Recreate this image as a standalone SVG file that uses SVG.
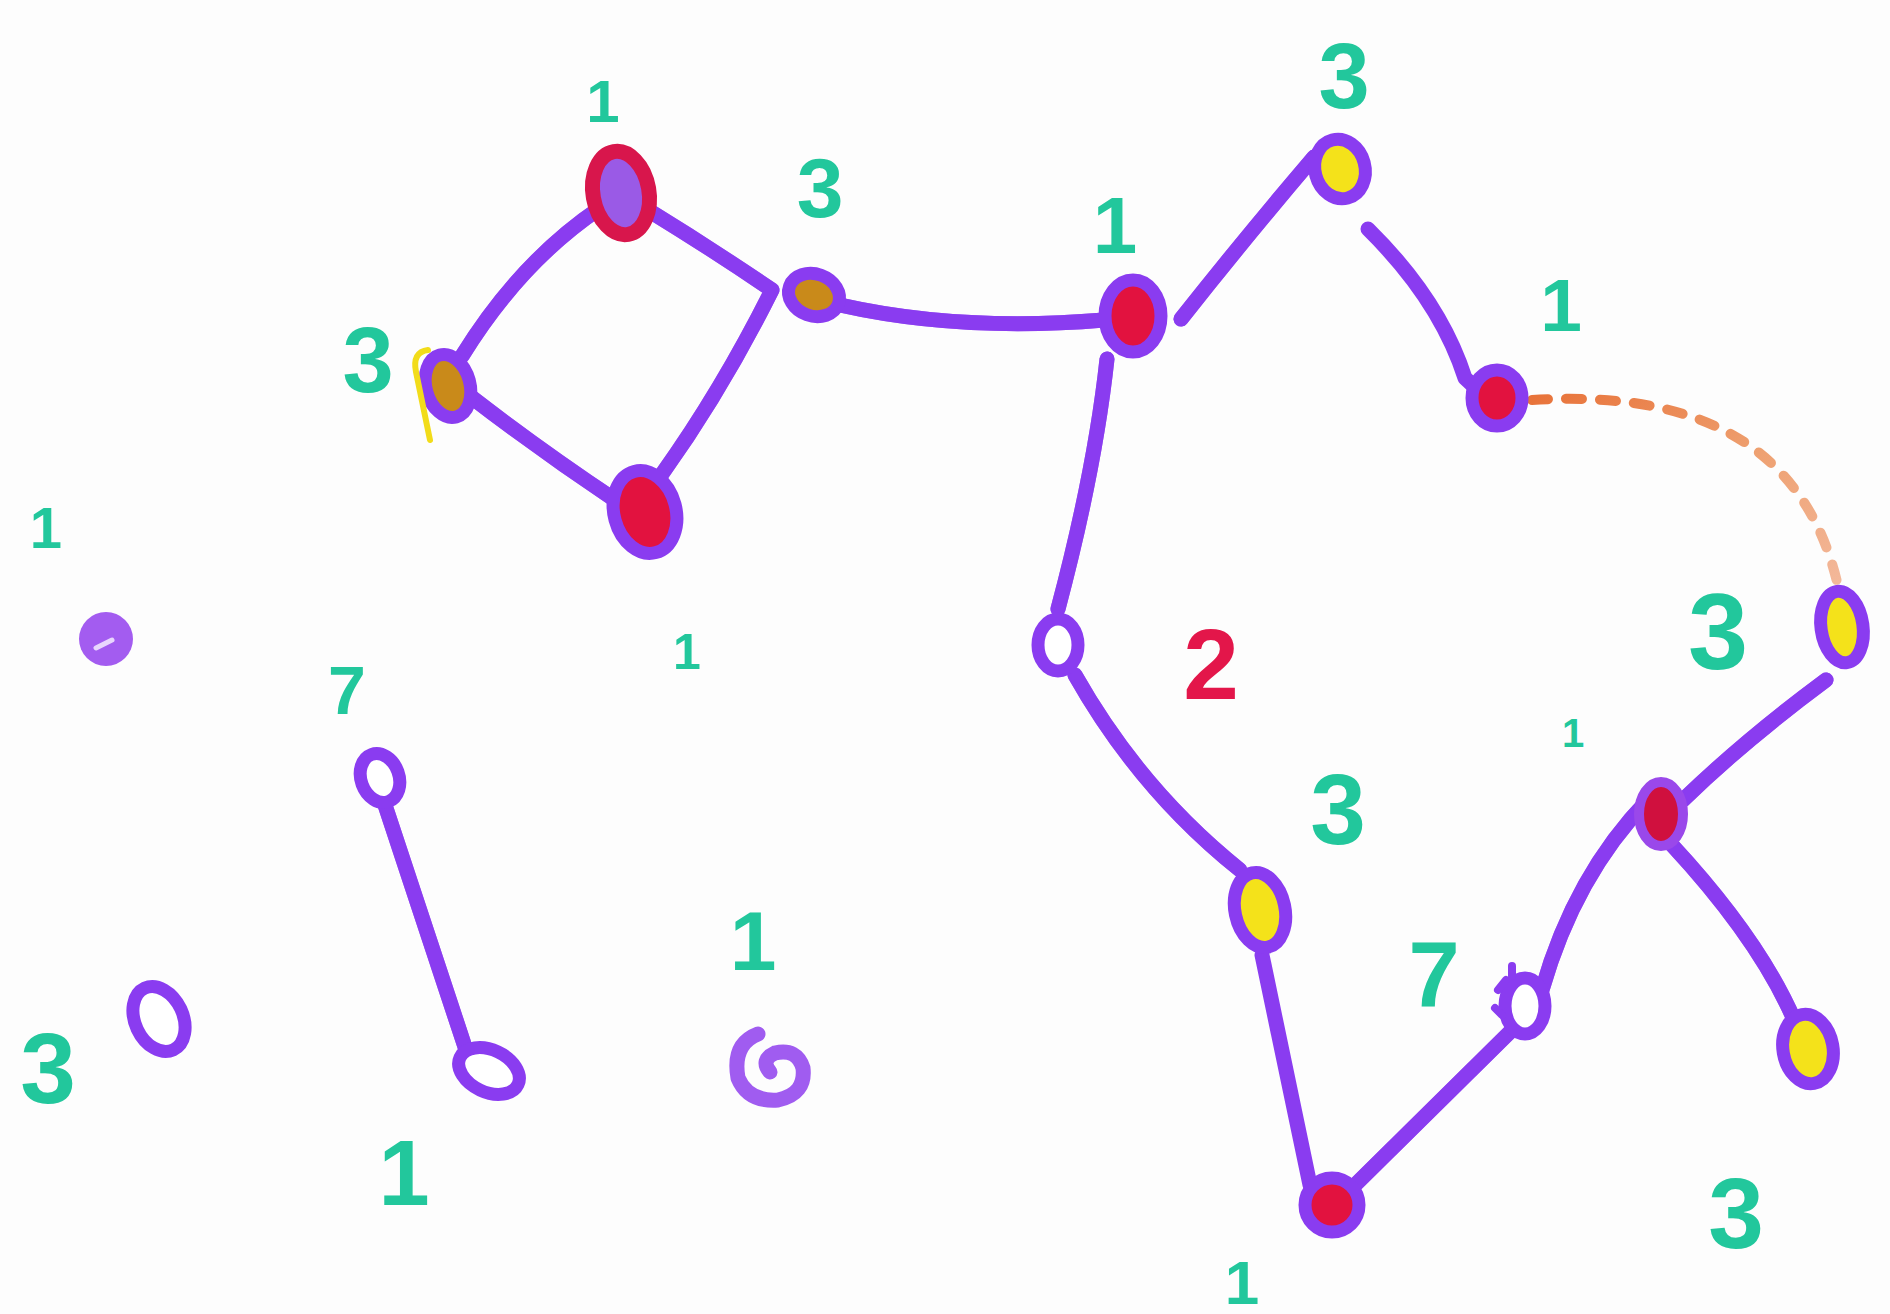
<svg xmlns="http://www.w3.org/2000/svg" xmlns:xlink="http://www.w3.org/1999/xlink" width="1890" height="1314" viewBox="0 0 1890 1314">
<defs>
<style>
.edge{fill:none;stroke:#8a3cf0;stroke-width:15;stroke-linecap:round;stroke-linejoin:round}
.hi{fill:none;stroke:#c8a2fa;stroke-width:4;stroke-linecap:round;opacity:.7}
.ring{stroke:#8a3cf0;stroke-width:13}
.red{fill:#e2123f}
.yel{fill:#f4e21a}
.wht{fill:#ffffff}
.brn{fill:#c98a1a}
.lbl{font-family:"Liberation Sans",Arial,sans-serif;font-weight:bold;fill:#22c79c;text-anchor:middle}
.lblr{font-family:"Liberation Sans",Arial,sans-serif;font-weight:bold;fill:#e3164a;text-anchor:middle}
</style>
<linearGradient id="dashg" x1="0" y1="0" x2="1" y2="1">
<stop offset="0" stop-color="#e8733a"/>
<stop offset="0.5" stop-color="#eea070"/>
<stop offset="1" stop-color="#f3b89a"/>
</linearGradient>
</defs>
<rect width="1890" height="1314" fill="#fdfdfd"/>

<g id="connectors">
<path id="e1" class="edge" d="M462 356 Q520 262 600 208"/>
<path id="e2" class="edge" d="M648 210 Q710 248 772 290 Q722 390 662 474"/>
<path id="e3" class="edge" d="M470 396 Q540 450 615 500"/>
<path id="e4" class="edge" d="M840 305 Q960 332 1104 320"/>
<path id="e5" class="edge" d="M1181 319 Q1245 238 1314 157"/>
<path id="e6" class="edge" d="M1368 229 Q1440 300 1465 378 L1480 392"/>
<path id="e7" class="edge" d="M1107 359 Q1095 470 1058 609"/>
<path id="e8" class="edge" d="M1075 675 Q1140 790 1240 870"/>
<path id="e9" class="edge" d="M1262 955 L1310 1185"/>
<path id="e10" class="edge" d="M1352 1188 L1512 1030"/>
<path id="e11" class="edge" d="M1542 990 Q1575 875 1648 800"/>
<path id="e12" class="edge" d="M1683 800 Q1745 740 1826 680"/>
<path id="e13" class="edge" d="M1672 845 Q1760 940 1795 1022"/>
<path id="e14" class="edge" d="M384 802 L466 1050"/>
<use xlink:href="#e1" class="hi"/><use xlink:href="#e2" class="hi"/><use xlink:href="#e3" class="hi"/>
<use xlink:href="#e4" class="hi"/><use xlink:href="#e5" class="hi"/><use xlink:href="#e7" class="hi"/>
<use xlink:href="#e8" class="hi"/><use xlink:href="#e10" class="hi"/><use xlink:href="#e11" class="hi"/>
<use xlink:href="#e12" class="hi"/><use xlink:href="#e13" class="hi"/><use xlink:href="#e14" class="hi"/>
<path id="e15" d="M1532 400 C1660 392 1800 420 1838 586" fill="none" stroke="url(#dashg)" stroke-width="10" stroke-dasharray="16 18" stroke-linecap="round"/>
</g>

<g id="n1"><ellipse cx="621" cy="193" rx="28" ry="42" transform="rotate(-10 621 193)" fill="#9a5ae6" stroke="#d8164c" stroke-width="15"/></g>
<g id="n2"><ellipse class="ring brn" cx="448" cy="386" rx="22" ry="32" transform="rotate(-15 448 386)"/><path d="M428 350 Q412 352 416 372 L430 440" fill="none" stroke="#f2dc1a" stroke-width="6" stroke-linecap="round"/></g>
<g id="n3"><ellipse class="ring red" cx="645" cy="512" rx="31" ry="42" transform="rotate(-15 645 512)"/></g>
<g id="n4"><ellipse class="ring brn" cx="814" cy="295" rx="26" ry="21" transform="rotate(20 814 295)"/></g>
<g id="n5"><ellipse class="ring red" cx="1133" cy="316" rx="28" ry="36"/></g>
<g id="n6"><ellipse class="ring yel" cx="1340" cy="169" rx="25" ry="30" transform="rotate(-15 1340 169)"/></g>
<g id="n7"><ellipse class="ring red" cx="1497" cy="398" rx="25" ry="28"/></g>
<g id="n8"><ellipse class="ring yel" cx="1842" cy="627" rx="21" ry="36" transform="rotate(-8 1842 627)"/></g>
<g id="n9"><ellipse cx="1661" cy="814" rx="22" ry="32" fill="#d0103e" stroke="#9a48ea" stroke-width="10"/></g>
<g id="n10"><ellipse class="ring yel" cx="1808" cy="1049" rx="25" ry="35" transform="rotate(-10 1808 1049)"/></g>
<g id="n11"><ellipse class="ring wht" cx="1525" cy="1006" rx="20" ry="28"/><path d="M1512 976 L1512 966 M1498 990 L1506 980 M1502 1015 L1495 1008" stroke="#8a3cf0" stroke-width="8" stroke-linecap="round"/></g>
<g id="n12"><ellipse class="ring red" cx="1332" cy="1205" rx="27" ry="27"/></g>
<g id="n13"><ellipse class="ring yel" cx="1260" cy="910" rx="25" ry="38" transform="rotate(-12 1260 910)"/></g>
<g id="n14"><ellipse class="ring wht" cx="1058" cy="645" rx="20" ry="26"/></g>
<g id="n15"><ellipse cx="106" cy="639" rx="27" ry="27" fill="#a35cf0"/><path d="M96 648 L112 640" stroke="#e8d6fd" stroke-width="5" stroke-linecap="round"/></g>
<g id="n16"><ellipse class="ring wht" cx="380" cy="778" rx="19" ry="25" transform="rotate(-20 380 778)"/></g>
<g id="n17"><ellipse class="ring wht" cx="489" cy="1071" rx="32" ry="21" transform="rotate(25 489 1071)" stroke-width="15"/></g>
<g id="n18"><ellipse class="ring wht" cx="159" cy="1019" rx="24" ry="34" transform="rotate(-25 159 1019)" stroke-width="16"/></g>
<g id="n19"><path d="M758 1034 Q732 1044 738 1078 Q748 1102 778 1100 Q806 1094 803 1068 Q797 1048 775 1053 Q760 1060 770 1072" fill="none" stroke="#a05cf0" stroke-width="15" stroke-linecap="round"/></g>

<g id="labels">
<text class="lbl" x="603" y="122" font-size="60">1</text>
<text class="lbl" x="368" y="392" font-size="92">3</text>
<text class="lbl" x="820" y="217" font-size="84">3</text>
<text class="lbl" x="1115" y="253" font-size="80">1</text>
<text class="lbl" x="1344" y="108" font-size="92">3</text>
<text class="lbl" x="1561" y="331" font-size="75">1</text>
<text class="lbl" x="1718" y="669" font-size="108">3</text>
<text class="lbl" x="1573" y="747" font-size="40">1</text>
<text class="lbl" x="1736" y="1248" font-size="100">3</text>
<text class="lbl" x="1434" y="1006" font-size="92">7</text>
<text class="lbl" x="1242" y="1304" font-size="62">1</text>
<text class="lbl" x="1338" y="844" font-size="100">3</text>
<text class="lblr" x="1211" y="699" font-size="100">2</text>
<text class="lbl" x="46" y="548" font-size="58">1</text>
<text class="lbl" x="347" y="714" font-size="68">7</text>
<text class="lbl" x="404" y="1205" font-size="92">1</text>
<text class="lbl" x="48" y="1103" font-size="100">3</text>
<text class="lbl" x="753" y="970" font-size="84">1</text>
<text class="lbl" x="687" y="669" font-size="50">1</text>
</g>
</svg>
